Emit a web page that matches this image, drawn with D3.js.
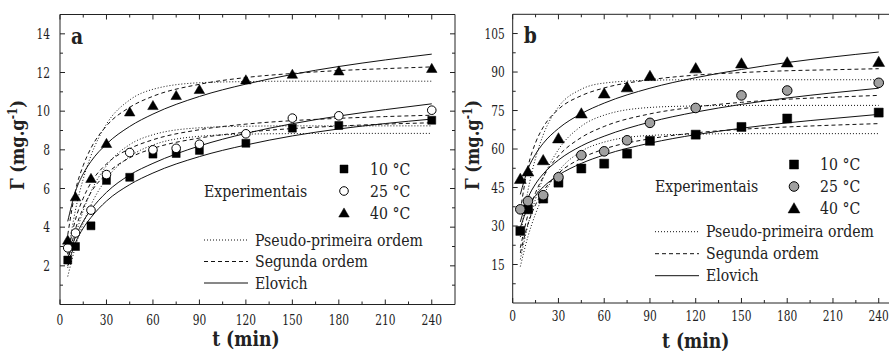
<!DOCTYPE html>
<html><head><meta charset="utf-8">
<script src="https://cdn.jsdelivr.net/npm/d3@7"></script>
<style>
body{margin:0;background:#fff;}
text{font-family:"DejaVu Serif",serif;fill:#222;}
</style></head>
<body><svg id="c" width="889" height="351"></svg>
<script>
// ---------- data ----------
const tExp = [5,10,20,30,45,60,75,90,120,150,180,240];
const tFit = [5,10,15,20,30,45,60,90,120,150,180,210,240];
const xTicks = [0,30,60,90,120,150,180,210,240];
const aYTicks = [2,4,6,8,10,12,14];
const bYTicks = [15,30,45,60,75,90,105];
const legendLabels = ["10 °C","25 °C","40 °C"];
const modelLabels = ["Pseudo-primeira ordem","Segunda ordem","Elovich"];

// panel a : experimental
const aExp10 = [2.3,3.0,4.07,6.42,6.58,7.78,7.81,7.97,8.34,9.12,9.26,9.53];
const aExp25 = [2.93,3.7,4.88,6.72,7.86,8.0,8.08,8.29,8.83,9.64,9.76,10.05];
const aExp40 = [3.33,5.57,6.52,8.33,9.96,10.29,10.81,11.12,11.62,11.91,12.08,12.21];
// panel a : models
const aPfo10 = [1.45,3.0,4.2,5.15,6.5,7.65,8.25,8.7,8.81,8.84,8.85,8.85,8.85];
const aPfo25 = [1.9,3.55,4.85,5.84,7.18,8.27,8.78,9.14,9.22,9.24,9.24,9.24,9.24];
const aPfo40 = [2.6,4.89,6.49,7.7,9.33,10.58,11.13,11.47,11.53,11.55,11.55,11.55,11.55];
const aSo10 = [2.2,3.9,5.0,5.8,6.75,7.59,8.07,8.61,8.91,9.1,9.23,9.33,9.4];
const aSo25 = [2.6,4.4,5.5,6.3,7.27,8.06,8.52,9.04,9.33,9.51,9.63,9.72,9.79];
const aSo40 = [3.6,5.9,7.19,8.09,9.24,10.2,10.77,11.39,11.74,11.95,12.1,12.2,12.29];
const aElo10 = [2.0,3.2,3.95,4.5,5.35,6.2,6.8,7.65,8.25,8.72,9.08,9.36,9.59];
const aElo25 = [2.4,3.5,4.3,4.9,5.8,6.7,7.3,8.2,8.85,9.35,9.75,10.08,10.38];
const aElo40 = [4.3,5.85,6.76,7.4,8.3,9.21,9.85,10.76,11.4,11.9,12.31,12.65,12.95];

// panel b : experimental
const bExp10 = [28.1,36.5,40.7,46.9,52.4,54.3,58.2,63.2,65.6,68.6,71.9,74.2];
const bExp25 = [36.5,39.7,42.0,49.0,57.6,59.1,63.4,70.2,76.0,80.9,82.8,85.8];
const bExp40 = [48.3,51.2,55.6,64.1,73.8,81.6,84.0,88.4,91.4,93.3,93.7,93.9];
// panel b : models
const bPfo10 = [14.2,25.9,34.8,41.7,51.3,59.1,62.7,65.3,65.8,66.0,66.0,66.0,66.0];
const bPfo25 = [17.0,30.3,40.6,48.7,59.8,68.9,73.2,76.2,76.8,77.0,77.0,77.0,77.0];
const bPfo40 = [25.7,43.8,56.5,65.5,76.4,83.3,85.7,86.8,87.0,87.0,87.0,87.0,87.0];
const bSo10 = [19.5,30.8,38.3,43.5,50.5,56.4,60.0,64.0,66.3,67.7,68.6,69.3,69.9];
const bSo25 = [21.5,34.4,43.0,49.1,57.3,64.5,68.8,73.7,76.4,78.2,79.4,80.2,80.9];
const bSo40 = [36.0,53.0,62.5,68.5,75.5,80.8,83.8,87.0,88.8,89.8,90.5,90.9,91.3];
const bElo10 = [29.4,37.3,41.9,45.2,49.8,54.4,57.7,62.3,65.6,68.1,70.2,71.9,73.5];
const bElo25 = [31.6,40.9,46.4,50.3,55.7,61.2,65.0,70.5,74.4,77.4,79.9,81.9,83.7];
const bElo40 = [42.3,52.2,58.0,62.2,68.0,73.8,77.9,83.7,87.8,91.0,93.7,95.9,97.8];

// ---------- drawing ----------
const svg = d3.select("#c");

// text helper with slight horizontal condensing (Cambria-like proportions)
function T(sel, x, y, str, size, o = {}){
  const sx = o.sx || 0.85;
  const rot = o.rot ? ` rotate(${o.rot})` : "";
  const t = sel.append("text")
    .attr("transform", `translate(${x},${y})${rot} scale(${sx},1)`)
    .attr("font-size", size)
    .attr("text-anchor", o.anchor || "start");
  if (o.bold) t.attr("font-weight", "bold");
  if (o.dy) t.attr("dy", o.dy);
  if (str !== null) t.text(str);
  return t;
}

function panel(cfg){
  const g = svg.append("g");
  const x = d3.scaleLinear().domain([0,255]).range([cfg.x0, cfg.x1]);
  const y = d3.scaleLinear().domain([0,cfg.ymax]).range([cfg.y0, cfg.y1]);
  const xMinor = d3.range(15,255,30);
  const yMinor = d3.range(cfg.ystep/2, cfg.ymax, cfg.ystep).filter(v=>v<cfg.ymax-0.01);

  // models
  const line = d3.line().x((d,i)=>x(tFit[i])).y(d=>y(d)).curve(d3.curveMonotoneX);
  const styles = {pfo:"1,2", so:"4,3", elo:null};
  cfg.models.forEach(m=>{
    g.append("path").attr("d", line(m.v)).attr("fill","none").attr("stroke","#111")
      .attr("stroke-width",1).attr("stroke-dasharray", styles[m.k]);
  });

  // markers
  const sym = {sq:d3.symbolSquare, ci:d3.symbolCircle, tr:d3.symbolTriangle};
  const symSize = {sq:cfg.ms*cfg.ms, ci:Math.PI*(cfg.ms/2+0.3)**2, tr:cfg.ms*cfg.ms*0.75};
  function marker(sel, kind, cx, cy){
    const dy = kind==="tr" ? 1 : 0;
    sel.append("path").attr("d", d3.symbol().type(sym[kind]).size(symSize[kind])())
      .attr("transform",`translate(${cx},${cy+dy})`)
      .attr("fill", kind==="ci" ? cfg.circleFill : "#000")
      .attr("stroke","#000").attr("stroke-width", kind==="ci"?1:0.5);
  }
  cfg.exp.forEach(s=>{
    s.v.forEach((v,i)=>marker(g, s.k, x(tExp[i]), y(v)));
  });

  // axes (ticks inward)
  const ax = g.append("g").attr("stroke","#222").attr("stroke-width",1).attr("fill","none");
  ax.append("line").attr("x1",cfg.x0).attr("x2",cfg.x1).attr("y1",cfg.y0).attr("y2",cfg.y0);
  ax.append("line").attr("x1",cfg.x0).attr("x2",cfg.x1).attr("y1",cfg.y1).attr("y2",cfg.y1);
  ax.append("line").attr("x1",cfg.x0).attr("x2",cfg.x0).attr("y1",cfg.y0).attr("y2",cfg.y1);
  ax.append("line").attr("x1",cfg.x1).attr("x2",cfg.x1).attr("y1",cfg.y0).attr("y2",cfg.y1);
  const MJ=5, MN=3;
  xTicks.forEach(t=>{
    ax.append("line").attr("x1",x(t)).attr("x2",x(t)).attr("y1",cfg.y0).attr("y2",cfg.y0-MJ);
    ax.append("line").attr("x1",x(t)).attr("x2",x(t)).attr("y1",cfg.y1).attr("y2",cfg.y1+MJ);
  });
  xMinor.forEach(t=>{
    ax.append("line").attr("x1",x(t)).attr("x2",x(t)).attr("y1",cfg.y0).attr("y2",cfg.y0-MN);
    ax.append("line").attr("x1",x(t)).attr("x2",x(t)).attr("y1",cfg.y1).attr("y2",cfg.y1+MN);
  });
  cfg.yTicks.forEach(v=>{
    ax.append("line").attr("x1",cfg.x0).attr("x2",cfg.x0+MJ).attr("y1",y(v)).attr("y2",y(v));
    ax.append("line").attr("x1",cfg.x1).attr("x2",cfg.x1-MJ).attr("y1",y(v)).attr("y2",y(v));
  });
  yMinor.forEach(v=>{
    ax.append("line").attr("x1",cfg.x0).attr("x2",cfg.x0+MN).attr("y1",y(v)).attr("y2",y(v));
    ax.append("line").attr("x1",cfg.x1).attr("x2",cfg.x1-MN).attr("y1",y(v)).attr("y2",y(v));
  });

  // tick labels
  xTicks.forEach(t=>T(g, x(t), cfg.y0+cfg.xlabOff, String(t), 14, {anchor:"middle", sx:0.76}));
  cfg.yTicks.forEach(v=>T(g, cfg.x0-cfg.ylabOff, y(v)+5, String(v), 14, {anchor:"end", sx:0.76}));

  // axis titles
  T(g, (x(0)+x(240))/2, cfg.xTitleY, "t (min)", 20, {anchor:"middle", bold:true, sx:0.86});
  const yt = T(g, cfg.yTitleX, cfg.yTitleY, null, 19, {anchor:"middle", bold:true, rot:-90, sx:0.86});
  yt.append("tspan").text("Γ (mg.g");
  yt.append("tspan").attr("dy",-7).attr("font-size",12).text("-1");
  yt.append("tspan").attr("dy",7).text(")");

  // panel letter
  T(g, cfg.x0+11, cfg.y1+29, cfg.letter, 22, {bold:true, sx:0.85});

  // legend
  const L = cfg.leg;
  const lg = g.append("g");
  ["sq","ci","tr"].forEach((k,i)=>{
    const yy = L.y0 + i*L.dy1;
    marker(lg, k, L.mx, yy);
    T(lg, L.tx, yy+5.5, legendLabels[i], 16, {sx:0.88});
  });
  T(lg, L.ex, L.y0+L.dy1+5.5, "Experimentais", 16, {sx:0.88});
  ["1,2","4,3",null].forEach((da,i)=>{
    const yy = L.ly0 + i*L.dy2;
    lg.append("line").attr("x1",L.ex).attr("x2",L.ex+44).attr("y1",yy).attr("y2",yy)
      .attr("stroke","#111").attr("stroke-width",1).attr("stroke-dasharray",da);
    T(lg, L.ex+51, yy+5.5, modelLabels[i], 16, {sx:0.88});
  });
}

panel({
  letter:"a", x0:60, x1:455, y0:304.5, y1:14.5, ymax:15, ystep:2, yTicks:aYTicks,
  ms:8, circleFill:"#fff", xlabOff:20.5, ylabOff:10, xTitleY:346, yTitleX:24, yTitleY:145,
  exp:[{k:"sq",v:aExp10},{k:"ci",v:aExp25},{k:"tr",v:aExp40}],
  models:[{k:"pfo",v:aPfo10},{k:"pfo",v:aPfo25},{k:"pfo",v:aPfo40},
          {k:"so",v:aSo10},{k:"so",v:aSo25},{k:"so",v:aSo40},
          {k:"elo",v:aElo10},{k:"elo",v:aElo25},{k:"elo",v:aElo40}],
  leg:{mx:344, tx:370, ex:204, y0:169, dy1:22, ly0:240, dy2:21.5}
});
panel({
  letter:"b", x0:512.7, x1:901.6, y0:303, y1:14.3, ymax:112.5, ystep:15, yTicks:bYTicks,
  ms:9, circleFill:"#a0a0a0", xlabOff:17.5, ylabOff:8, xTitleY:348, yTitleX:479, yTitleY:145,
  exp:[{k:"sq",v:bExp10},{k:"ci",v:bExp25},{k:"tr",v:bExp40}],
  models:[{k:"pfo",v:bPfo10},{k:"pfo",v:bPfo25},{k:"pfo",v:bPfo40},
          {k:"so",v:bSo10},{k:"so",v:bSo25},{k:"so",v:bSo40},
          {k:"elo",v:bElo10},{k:"elo",v:bElo25},{k:"elo",v:bElo40}],
  leg:{mx:794, tx:820, ex:655, y0:164.5, dy1:22, ly0:231.7, dy2:22}
});
</script></body></html>
